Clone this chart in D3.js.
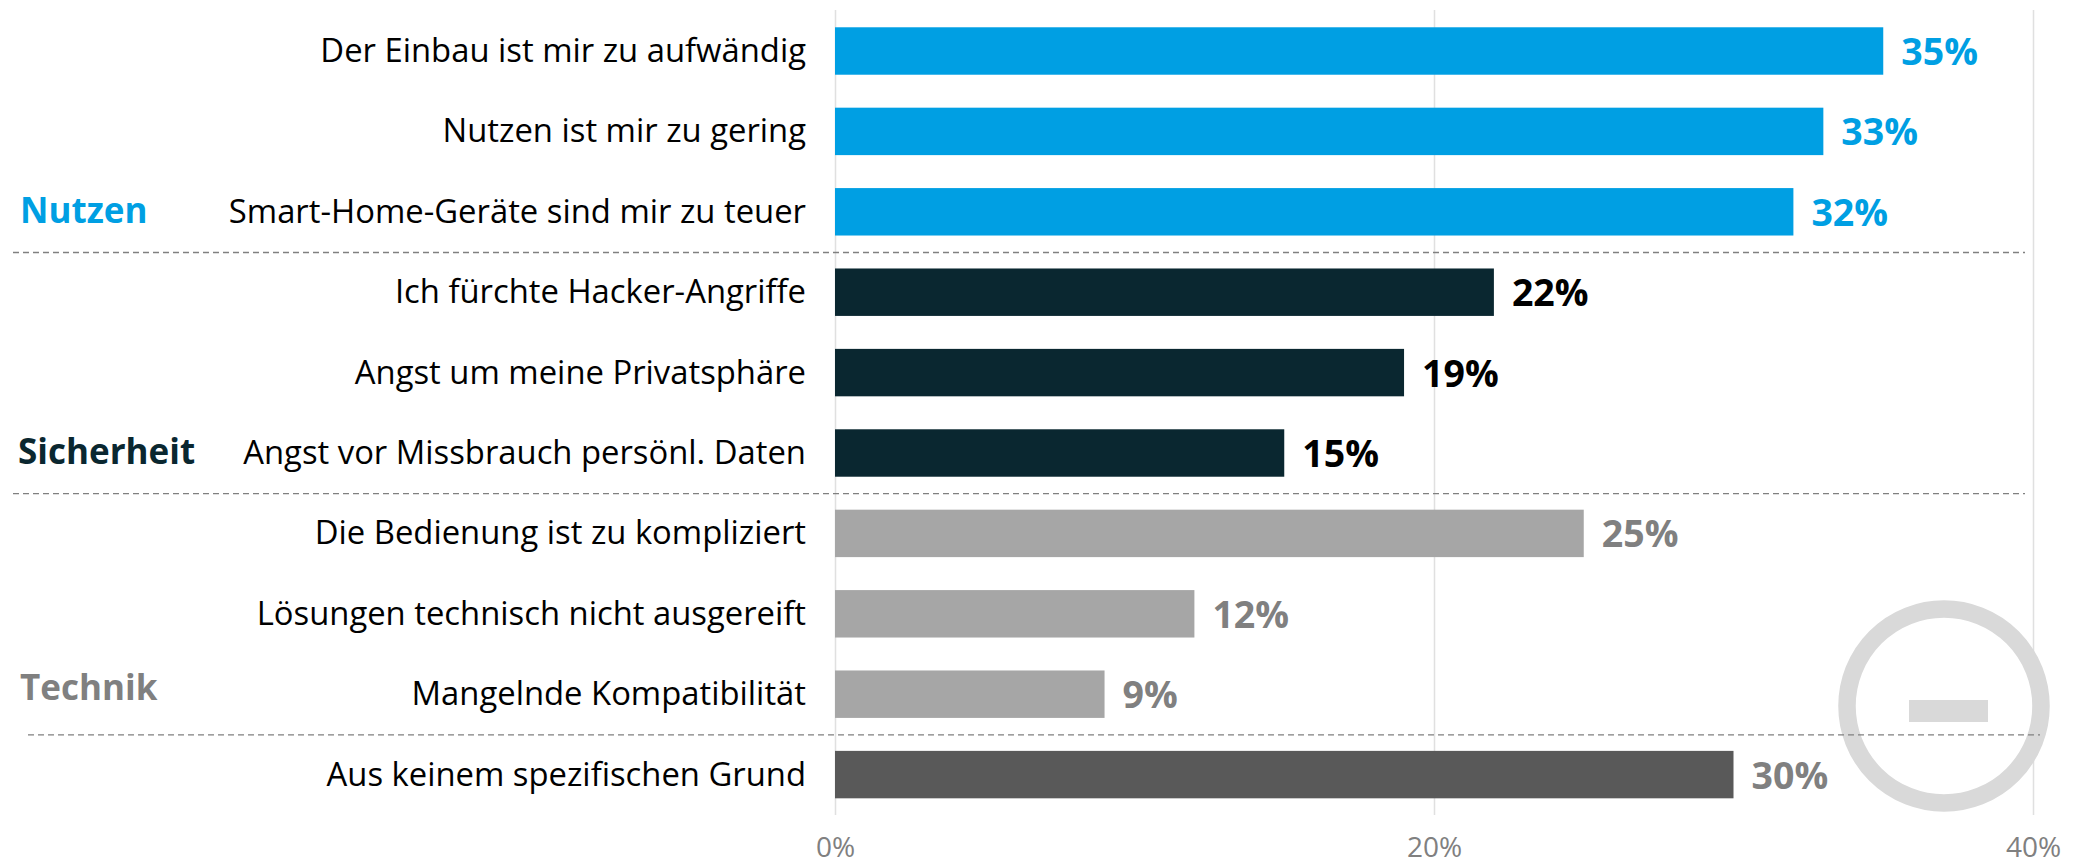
<!DOCTYPE html>
<html>
<head>
<meta charset="utf-8">
<script src="https://cdn.jsdelivr.net/npm/d3@7"></script>
<style>
  html, body { margin: 0; background: #fff; }
  svg { display: block; }
  text { font-family: "Open Sans", sans-serif; }
</style>
</head>
<body>
<script>
// categories and values, top to bottom
var labels = ['Der Einbau ist mir zu aufwändig', 'Nutzen ist mir zu gering', 'Smart-Home-Geräte sind mir zu teuer',
  'Ich fürchte Hacker-Angriffe', 'Angst um meine Privatsphäre', 'Angst vor Missbrauch persönl. Daten',
  'Die Bedienung ist zu kompliziert', 'Lösungen technisch nicht ausgereift', 'Mangelnde Kompatibilität',
  'Aus keinem spezifischen Grund'];
var values = [35, 33, 32, 22, 19, 15, 25, 12, 9, 30];
var groups = ['Nutzen', 'Nutzen', 'Nutzen', 'Sicherheit', 'Sicherheit', 'Sicherheit', 'Technik', 'Technik', 'Technik', 'Keine'];
var groupNames = ['Nutzen', 'Sicherheit', 'Technik'];
var xTicks = [0, 20, 40];

var width = 2083, height = 861;

var x = d3.scaleLinear().domain([0, 40]).range([835, 2033]);
var y = d3.scaleBand().domain(labels).range([10.8, 10.8 + 80.4 * 10]).paddingInner(0.41).paddingOuter(0.205);

var barColor = d3.scaleOrdinal().domain(['Nutzen', 'Sicherheit', 'Technik', 'Keine'])
  .range(['#009fe3', '#0a2730', '#a6a6a6', '#595959']);
var valueColor = d3.scaleOrdinal().domain(['Nutzen', 'Sicherheit', 'Technik', 'Keine'])
  .range(['#009fe3', '#000000', '#808080', '#808080']);
var groupColor = d3.scaleOrdinal().domain(groupNames).range(['#009fe3', '#0a2730', '#808080']);

var svg = d3.select('body').append('svg').attr('width', width).attr('height', height);

// x axis with the ticks drawn up as gridlines
var xAxis = d3.axisBottom(x).tickValues(xTicks).tickFormat(function(d) { return d + '%'; }).tickSize(-805).tickPadding(22);
var axisG = svg.append('g').attr('transform', 'translate(0,815)').call(xAxis);
axisG.select('.domain').remove();
axisG.selectAll('line').attr('stroke', '#e0e0e0').attr('stroke-width', 1.5);
axisG.selectAll('text').attr('fill', '#808080').style('font-size', '28px');

// ring and minus sign behind the separators
svg.append('circle').attr('cx', 1944).attr('cy', 706).attr('r', 97)
  .attr('fill', 'none').attr('stroke', '#d9d9d9').attr('stroke-width', 17.5);
svg.append('rect').attr('x', 1909).attr('y', 700).attr('width', 79).attr('height', 22).attr('fill', '#d9d9d9');

svg.selectAll('.bar').data(labels).enter().append('rect')
  .attr('class', 'bar')
  .attr('x', x(0))
  .attr('y', function(d) { return y(d); })
  .attr('width', function(d, i) { return x(values[i]) - x(0); })
  .attr('height', y.bandwidth())
  .attr('fill', function(d, i) { return barColor(groups[i]); });

svg.selectAll('.label').data(labels).enter().append('text')
  .attr('class', 'label')
  .attr('x', 806)
  .attr('y', function(d) { return y(d) + y.bandwidth() / 2 + 11; })
  .attr('text-anchor', 'end')
  .attr('fill', '#000')
  .style('font-size', '32.8px')
  .text(function(d) { return d; });

svg.selectAll('.value').data(values).enter().append('text')
  .attr('class', 'value')
  .attr('x', function(d) { return x(d) + 18; })
  .attr('y', function(d, i) { return y(labels[i]) + y.bandwidth() / 2 + 14; })
  .attr('fill', function(d, i) { return valueColor(groups[i]); })
  .style('font-size', '37.5px')
  .style('font-weight', 700)
  .text(function(d) { return d + '%'; });

// group names sit on the last row of their group, Technik a little higher
var groupShift = [0, 0, -5];
svg.selectAll('.group').data(groupNames).enter().append('text')
  .attr('class', 'group')
  .attr('x', function(d, i) { return i == 1 ? 18 : 20; })
  .attr('y', function(d, i) { return y(labels[groups.lastIndexOf(d)]) + y.bandwidth() / 2 + 11 + groupShift[i]; })
  .attr('fill', function(d) { return groupColor(d); })
  .style('font-size', '35px')
  .style('font-weight', 700)
  .text(function(d) { return d; });

// dashed separators below each group
var sepOffset = [13, 13, 28];
svg.selectAll('.sep').data(groupNames).enter().append('line')
  .attr('class', 'sep')
  .attr('x1', function(d, i) { return sepOffset[i]; })
  .attr('x2', function(d, i) { return sepOffset[i] + 2012; })
  .attr('y1', function(d) { return y(labels[groups.lastIndexOf(d)]) + y.bandwidth() + 17; })
  .attr('y2', function(d) { return y(labels[groups.lastIndexOf(d)]) + y.bandwidth() + 17; })
  .attr('stroke', '#808080')
  .attr('stroke-width', 1.3)
  .attr('stroke-dasharray', '6 4');
</script>
</body>
</html>
